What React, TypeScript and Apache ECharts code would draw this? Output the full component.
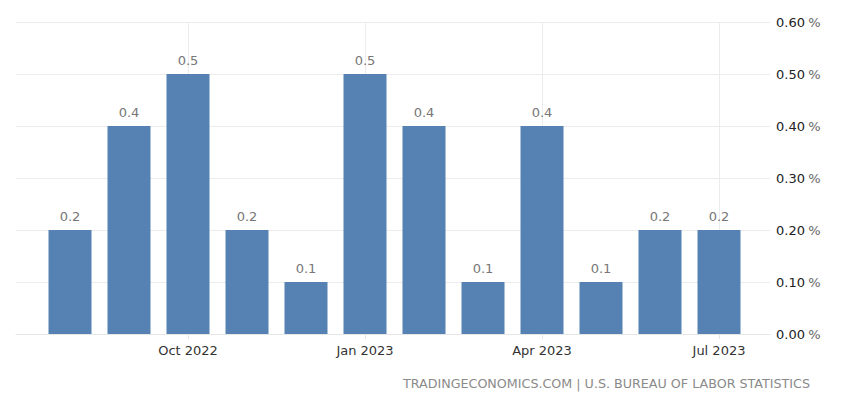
import React, { useEffect, useRef } from "react";
import * as echarts from "echarts";

const categories = [
  "Aug 2022", "Sep 2022", "Oct 2022", "Nov 2022", "Dec 2022", "Jan 2023",
  "Feb 2023", "Mar 2023", "Apr 2023", "May 2023", "Jun 2023", "Jul 2023",
];
const values = [0.2, 0.4, 0.5, 0.2, 0.1, 0.5, 0.4, 0.1, 0.4, 0.1, 0.2, 0.2];
const labeledCategories = ["Oct 2022", "Jan 2023", "Apr 2023", "Jul 2023"];
const yMin = 0;
const yMax = 0.6;
const yStep = 0.1;
const footer = "TRADINGECONOMICS.COM | U.S. BUREAU OF LABOR STATISTICS";

const FONT = "DejaVu Sans";

export default function App() {
  const ref = useRef<HTMLDivElement>(null);
  useEffect(() => {
    document.body.style.margin = "0";
    const chart = echarts.init(ref.current!, null, { renderer: "svg" });
    const labelInterval = (_i: number, v: string) => labeledCategories.includes(v);
    chart.setOption({
      animation: false,
      backgroundColor: "#ffffff",
      grid: [
        { left: 40.5, right: 101.5, top: 22, bottom: 65 },
        { left: 16, right: 80, top: 22, bottom: 65 },
      ],
      xAxis: [
        {
          type: "category",
          gridIndex: 0,
          data: categories,
          boundaryGap: true,
          axisLine: { show: false },
          axisTick: {
            show: true,
            alignWithLabel: true,
            interval: labelInterval,
            length: 5,
            lineStyle: { color: "#e6e6e6" },
          },
          splitLine: { show: false },
          axisLabel: {
            interval: labelInterval,
            color: "#333333",
            fontFamily: FONT,
            fontSize: 13,
            margin: 10,
          },
        },
        {
          type: "value",
          gridIndex: 1,
          min: 0,
          max: 1,
          axisLine: { show: true, lineStyle: { color: "#e6e6e6" } },
          axisTick: { show: false },
          axisLabel: { show: false },
          splitLine: { show: false },
        },
      ],
      yAxis: [
        {
          type: "value",
          gridIndex: 0,
          min: yMin,
          max: yMax,
          interval: yStep,
          show: false,
          splitLine: { show: false },
        },
        {
          type: "value",
          gridIndex: 1,
          position: "right",
          min: yMin,
          max: yMax,
          interval: yStep,
          axisLine: { show: false },
          axisTick: { show: false },
          splitLine: { show: true, lineStyle: { color: "#ececec" } },
          axisLabel: {
            margin: 6,
            formatter: (v: number) => `{a|${v.toFixed(2)}} {b|%}`,
            rich: {
              a: { color: "#222222", fontFamily: FONT, fontSize: 13 },
              b: { color: "#666666", fontFamily: FONT, fontSize: 13 },
            },
          },
        },
      ],
      series: [
        {
          type: "bar",
          xAxisIndex: 0,
          yAxisIndex: 0,
          data: values,
          barWidth: 43,
          itemStyle: { color: "#5582b3" },
          label: {
            show: true,
            position: "top",
            distance: 7,
            color: "#777777",
            fontFamily: FONT,
            fontSize: 13,
            formatter: (p: any) => p.value.toFixed(1),
          },
          markLine: {
            silent: true,
            symbol: "none",
            label: { show: false },
            lineStyle: { color: "#ececec", type: "solid", width: 1 },
            z: 0,
            data: labeledCategories.map((c) => ({ xAxis: c })),
          },
          z: 3,
        },
      ],
      graphic: [
        {
          type: "text",
          right: 40,
          top: 377,
          style: {
            text: footer,
            fill: "#8a8a8a",
            font: `12.7px "${FONT}"`,
          },
        },
      ],
    });
    return () => chart.dispose();
  }, []);
  return <div ref={ref} style={{ width: 850, height: 399 }} />;
}
